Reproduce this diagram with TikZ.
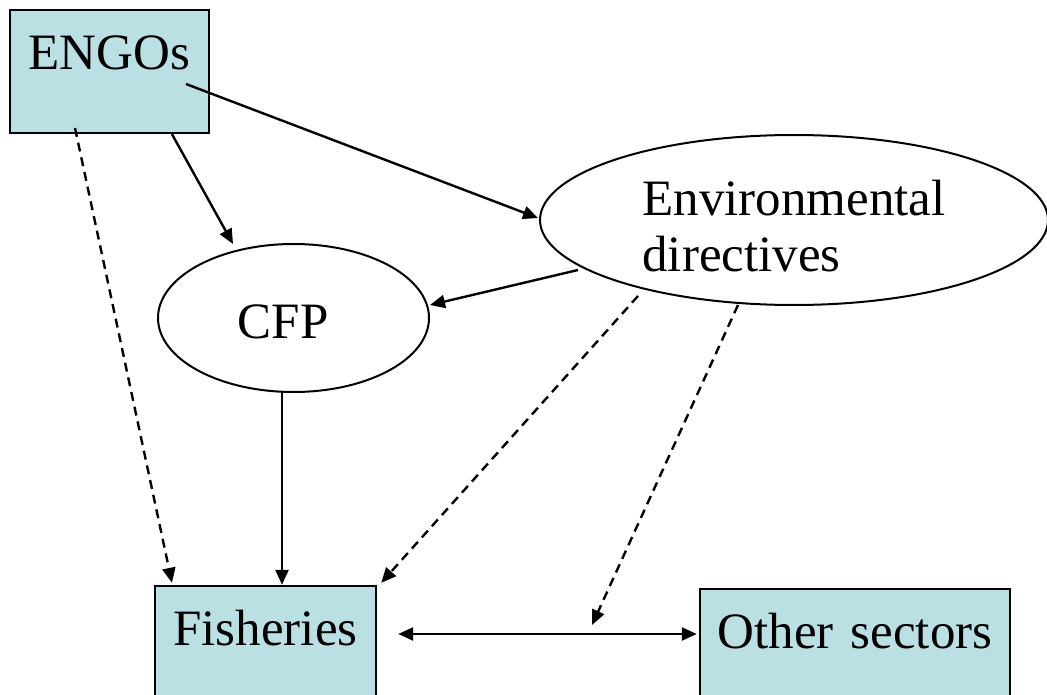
\documentclass[tikz,border=0pt]{standalone}
\usepackage{fontspec}
\setmainfont{Liberation Serif}
\usetikzlibrary{arrows.meta,shapes.geometric}
\definecolor{boxfill}{RGB}{187,224,227}
\begin{document}
\begin{tikzpicture}[x=1pt,y=-1pt,
  every node/.style={font=\fontsize{51}{55}\selectfont, inner sep=0pt},
  box/.style={draw, line width=2.4pt, fill=boxfill, align=center},
  oval/.style={draw, ellipse, line width=2pt, fill=white},
  conn/.style={line width=2.4pt, -{Triangle[length=15pt,width=13pt]}},
  dconn/.style={conn, dash pattern=on 9pt off 6pt},
]
\clip (0,0) rectangle (1047,695);
\fill[white] (0,0) rectangle (1047,695);

\node[box, text width=199pt, text height=60pt, text depth=63pt] (engos) at (109.5,71.5) {ENGOs};
\node[box, text width=221pt, text height=59pt, text depth=75pt] (fish) at (265.5,653) {Fisheries};
\node[box, text width=310pt, text height=59pt, text depth=72pt] (other) at (855,654.5) {Other sectors};

\node[oval, minimum width=508pt, minimum height=170pt, text height=47pt, text depth=55pt] (env) at (794,220)
  {\begin{tabular}[t]{@{}l@{}}Environmental\\directives\end{tabular}};
\node[oval, minimum width=271pt, minimum height=148pt, text height=40pt, text depth=0pt] (cfp) at (293.5,318)
  {CFP\hspace*{21pt}};

\coordinate (mid) at (592,625);

\draw[conn] ([shift={(76.5,12.5)}]engos.center) -- ([shift={(-256,-2)}]env.center);
\draw[conn] ([shift={(62.5,0)}]engos.south) -- ([shift={(-60.5,-74)}]cfp.center);
\draw[dconn] ([shift={(-34.5,56.5)}]engos.center) -- ([shift={(-93.5,-2)}]fish.north);
\draw[conn] ([shift={(-216,50)}]env.center) -- ([shift={(136.5,-13)}]cfp.center);
\draw[dconn] ([shift={(-156,76)}]env.center) -- ([shift={(4,-2)}]fish.north east);
\draw[dconn] ([shift={(-56,85)}]env.center) -- (mid);
\draw[conn] ([shift={(-11.5,74)}]cfp.center) -- ([shift={(16.5,0)}]fish.north);
\draw[conn, {Triangle[length=15pt,width=13pt]}-{Triangle[length=15pt,width=13pt]}] ([shift={(21,-19)}]fish.east) -- ([shift={(-2,-20.5)}]other.west);
\end{tikzpicture}
\end{document}
